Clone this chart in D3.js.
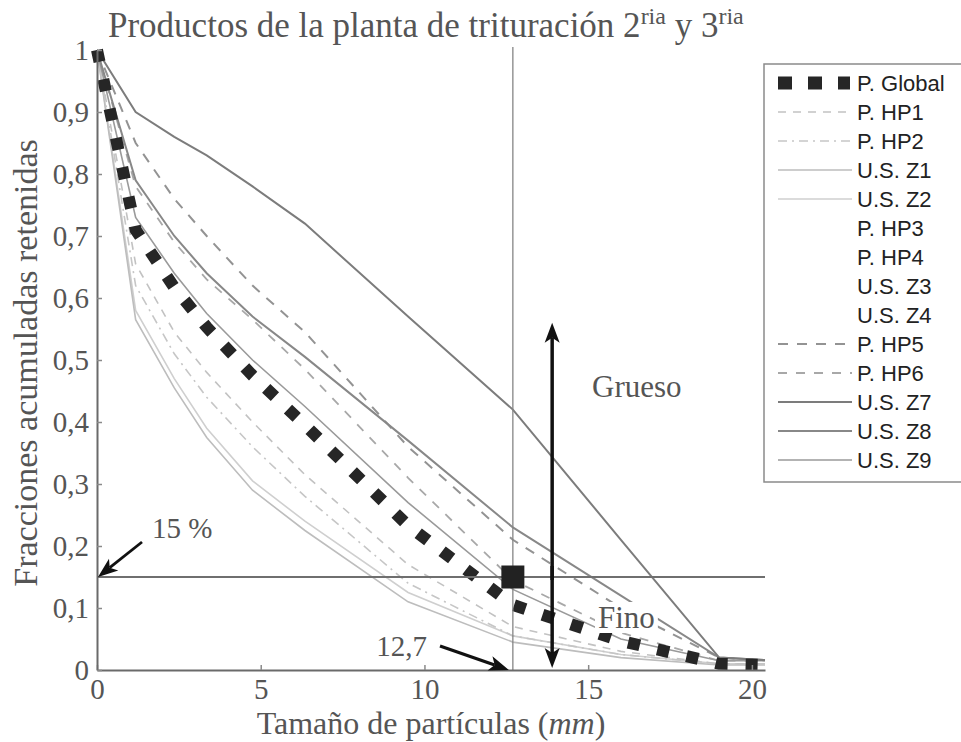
<!DOCTYPE html>
<html>
<head>
<meta charset="utf-8">
<script src="https://cdn.jsdelivr.net/npm/d3@7"></script>
<style>
    body { margin: 0; background: #fff; }
    svg { display: block; }
</style>
</head>
<body>
<script>
// sieve sizes (mm) and cumulative retained fractions
var sizes = [0, 1.18, 2.36, 3.35, 4.75, 6.35, 9.5, 12.7, 16, 19, 20.4];

var pGlobal = [1, 0.71, 0.617, 0.553, 0.475, 0.395, 0.233, 0.105, 0.047, 0.01, 0.008];
var pHP1 = [1, 0.655, 0.545, 0.48, 0.40, 0.315, 0.17, 0.07, 0.03, 0.01, 0.01];
var pHP2 = [1, 0.62, 0.51, 0.44, 0.36, 0.28, 0.14, 0.055, 0.025, 0.01, 0.01];
var usZ1 = [1, 0.565, 0.455, 0.375, 0.29, 0.225, 0.11, 0.045, 0.02, 0.008, 0.008];
var usZ2 = [1, 0.58, 0.47, 0.39, 0.305, 0.24, 0.125, 0.055, 0.025, 0.01, 0.01];
var pHP5 = [1, 0.85, 0.76, 0.70, 0.62, 0.545, 0.36, 0.21, 0.10, 0.02, 0.016];
var pHP6 = [1, 0.78, 0.69, 0.63, 0.565, 0.485, 0.31, 0.145, 0.06, 0.015, 0.015];
var usZ7 = [1, 0.90, 0.86, 0.83, 0.78, 0.72, 0.57, 0.42, 0.21, 0.02, 0.016];
var usZ8 = [1, 0.79, 0.70, 0.64, 0.57, 0.505, 0.37, 0.23, 0.12, 0.02, 0.016];
var usZ9 = [1, 0.73, 0.64, 0.575, 0.50, 0.425, 0.27, 0.13, 0.05, 0.015, 0.015];

var legendNames = ['P. Global', 'P. HP1', 'P. HP2', 'U.S. Z1', 'U.S. Z2', 'P. HP3', 'P. HP4',
    'U.S. Z3', 'U.S. Z4', 'P. HP5', 'P. HP6', 'U.S. Z7', 'U.S. Z8', 'U.S. Z9'];

var xTicks = [0, 5, 10, 15, 20];
var yTicks = [0, 0.1, 0.2, 0.3, 0.4, 0.5, 0.6, 0.7, 0.8, 0.9, 1];

var cutSize = 12.7,
    cutFraction = 0.15;

// HP3, HP4, Z3 and Z4 show no visible line in the original
var series = [
    { name: 'U.S. Z2', values: usZ2, stroke: '#cfcfcf', width: 1.6, dash: null },
    { name: 'U.S. Z1', values: usZ1, stroke: '#bdbdbd', width: 1.6, dash: null },
    { name: 'P. HP2', values: pHP2, stroke: '#c6c6c6', width: 1.6, dash: '9,5,2,5' },
    { name: 'P. HP1', values: pHP1, stroke: '#c2c2c2', width: 1.6, dash: '8,7' },
    { name: 'P. HP3', values: null, stroke: 'none', width: 0, dash: null },
    { name: 'P. HP4', values: null, stroke: 'none', width: 0, dash: null },
    { name: 'U.S. Z3', values: null, stroke: 'none', width: 0, dash: null },
    { name: 'U.S. Z4', values: null, stroke: 'none', width: 0, dash: null },
    { name: 'P. HP6', values: pHP6, stroke: '#a8a8a8', width: 1.8, dash: '9,9' },
    { name: 'P. HP5', values: pHP5, stroke: '#939393', width: 2, dash: '10,9' },
    { name: 'U.S. Z9', values: usZ9, stroke: '#9a9a9a', width: 1.6, dash: null },
    { name: 'U.S. Z8', values: usZ8, stroke: '#888', width: 2, dash: null },
    { name: 'U.S. Z7', values: usZ7, stroke: '#7c7c7c', width: 2, dash: null },
    { name: 'P. Global', values: pGlobal, stroke: '#262626', width: 12, dash: '12,18' }
];

var width = 961,
    height = 742,
    serif = '"Liberation Serif", "Times New Roman", serif',
    textColor = '#555';

var svg = d3.select('body').append('svg')
    .attr('width', width)
    .attr('height', height);

var x = d3.scaleLinear().domain([0, 20.4]).range([97, 765]),
    y = d3.scaleLinear().domain([0, 1]).range([670, 50]);

function decimalComma(v) {
    if (v === 0 || v === 1) {
        return String(v);
    }
    return v.toFixed(1).replace('.', ',');
}

// curves
var line = d3.line()
    .x(function (d) { return x(d[0]); })
    .y(function (d) { return y(d[1]); });

series.forEach(function (s) {
    if (!s.values) {
        return;
    }
    var pts = sizes.map(function (v, i) { return [v, s.values[i]]; });
    svg.append('path')
        .datum(pts)
        .attr('d', line)
        .attr('fill', 'none')
        .attr('stroke', s.stroke)
        .attr('stroke-width', s.width)
        .attr('stroke-dasharray', s.dash);
});

// reference lines at 15 % and 12,7 mm
svg.append('line')
    .attr('x1', x(0)).attr('x2', x(20.4))
    .attr('y1', y(cutFraction)).attr('y2', y(cutFraction))
    .attr('stroke', '#6f6f6f')
    .attr('stroke-width', 2);

svg.append('line')
    .attr('x1', x(cutSize)).attr('x2', x(cutSize))
    .attr('y1', y(1) - 3).attr('y2', y(0))
    .attr('stroke', '#858585')
    .attr('stroke-width', 1.3);

// axes
var xAxis = svg.append('g')
    .attr('transform', 'translate(0,' + y(0) + ')')
    .call(d3.axisBottom(x).tickValues(xTicks).tickSize(-5).tickSizeOuter(0).tickPadding(8));

var yAxis = svg.append('g')
    .attr('transform', 'translate(' + x(0) + ',0)')
    .call(d3.axisLeft(y).tickValues(yTicks).tickFormat(decimalComma)
        .tickSize(-5).tickSizeOuter(0).tickPadding(8));

[xAxis, yAxis].forEach(function (g) {
    g.select('.domain').attr('stroke', '#6a6a6a').attr('stroke-width', 2);
    g.selectAll('.tick line').attr('stroke', '#8a8a8a').attr('stroke-width', 1.5);
    g.selectAll('.tick text')
        .attr('fill', textColor)
        .style('font-family', serif)
        .style('font-size', '29px');
});

// big marker at the cut point
var markerSize = 23;
svg.append('rect')
    .attr('x', x(cutSize) - markerSize / 2)
    .attr('y', y(cutFraction) - markerSize / 2)
    .attr('width', markerSize)
    .attr('height', markerSize)
    .attr('fill', '#222');

// arrows
function arrow(x1, y1, x2, y2, lw) {
    var ang = Math.atan2(y2 - y1, x2 - x1),
        len = 20,
        half = 7.5,
        notch = 5,
        cos = Math.cos(ang),
        sin = Math.sin(ang);

    function pt(a, b) {
        return [x2 - a * cos - b * sin, y2 - a * sin + b * cos];
    }

    var back = pt(len - notch, 0);
    svg.append('line')
        .attr('x1', x1).attr('y1', y1)
        .attr('x2', back[0]).attr('y2', back[1])
        .attr('stroke', '#111')
        .attr('stroke-width', lw);
    svg.append('path')
        .attr('d', 'M' + [x2, y2] + 'L' + pt(len, half) + 'L' + back + 'L' + pt(len, -half) + 'Z')
        .attr('fill', '#111');
}

var arrowX = x(13.9);
arrow(arrowX, y(cutFraction) + 3, arrowX, y(0.56), 3.5);
arrow(arrowX, y(cutFraction) - 11, arrowX, y(0) - 2, 3.5);
arrow(142, 542, x(0) + 1, y(cutFraction), 2.8);
arrow(440, 646, x(cutSize) - 4, y(0), 3.2);

// annotations
function label(txt, tx, ty, size, anchor) {
    return svg.append('text')
        .attr('x', tx)
        .attr('y', ty)
        .attr('text-anchor', anchor || 'start')
        .attr('fill', textColor)
        .style('font-family', serif)
        .style('font-size', size + 'px')
        .text(txt);
}

label('Grueso', 592, 397, 31);

var fino = label('Fino', 598, 628, 31);
var fb = fino.node().getBBox();
svg.insert('rect', function () { return fino.node(); })
    .attr('x', fb.x - 3).attr('y', fb.y + 2)
    .attr('width', fb.width + 6).attr('height', fb.height - 4)
    .attr('fill', '#fff');

label('15 %', 152, 538, 29);
label('12,7', 427, 656, 29, 'end');

// title
var title = svg.append('text')
    .attr('x', 108)
    .attr('y', 37)
    .attr('fill', textColor)
    .style('font-family', serif)
    .style('font-size', '35px');
title.append('tspan').text('Productos de la planta de trituración 2');
title.append('tspan').attr('dy', -13).style('font-size', '24px').text('ria');
title.append('tspan').attr('dy', 13).text(' y 3');
title.append('tspan').attr('dy', -13).style('font-size', '24px').text('ria');

// axis titles
var xTitle = svg.append('text')
    .attr('x', 431)
    .attr('y', 734)
    .attr('text-anchor', 'middle')
    .attr('fill', textColor)
    .style('font-family', serif)
    .style('font-size', '32px');
xTitle.append('tspan').text('Tamaño de partículas (');
xTitle.append('tspan').style('font-style', 'italic').text('mm');
xTitle.append('tspan').text(')');

svg.append('text')
    .attr('transform', 'translate(37,363) rotate(-90)')
    .attr('text-anchor', 'middle')
    .attr('fill', textColor)
    .style('font-family', serif)
    .style('font-size', '34px')
    .text('Fracciones acumuladas retenidas');

// legend
var legend = svg.append('g').attr('transform', 'translate(764,64)'),
    rowH = 29;

legend.append('rect')
    .attr('x', 0).attr('y', 0)
    .attr('width', 240)
    .attr('height', legendNames.length * rowH + 12)
    .attr('fill', '#fff')
    .attr('stroke', '#8a8a8a')
    .attr('stroke-width', 1.5);

legendNames.forEach(function (name, i) {
    var s = series.filter(function (d) { return d.name === name; })[0],
        cy = 19 + i * rowH,
        isGlobal = name === 'P. Global';

    legend.append('line')
        .attr('x1', 14).attr('x2', isGlobal ? 86 : 88)
        .attr('y1', cy).attr('y2', cy)
        .attr('stroke', s.stroke)
        .attr('stroke-width', isGlobal ? 13 : s.width)
        .attr('stroke-dasharray', isGlobal ? '14,16' : s.dash);

    legend.append('text')
        .attr('x', 93)
        .attr('y', cy)
        .attr('dy', '0.35em')
        .attr('fill', '#222')
        .style('font-family', '"Liberation Sans", Arial, sans-serif')
        .style('font-size', '22px')
        .text(name);
});
</script>
</body>
</html>
